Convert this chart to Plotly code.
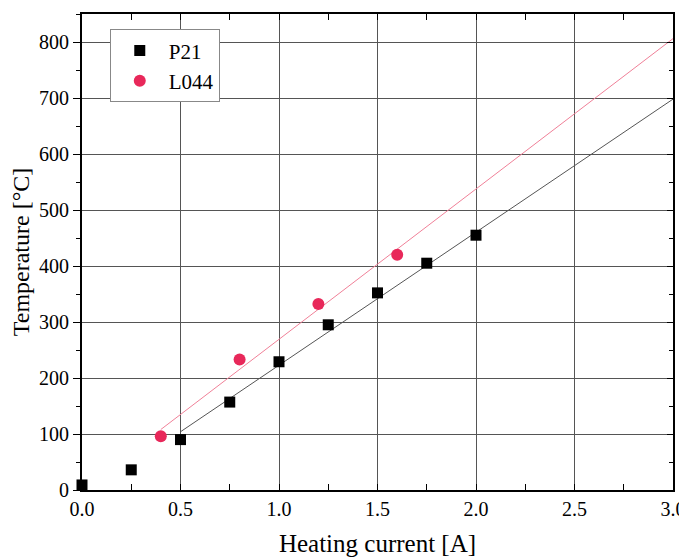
import plotly.graph_objects as go

# Data
p21_x = [0.0, 0.25, 0.5, 0.75, 1.0, 1.25, 1.5, 1.75, 2.0]
p21_y = [9, 36, 90, 157, 229, 295, 352, 405, 455]
l044_x = [0.4, 0.8, 1.2, 1.6]
l044_y = [96, 233, 332, 420]

# Linear fit lines (endpoints)
p21_fit_x = [0.5, 3.0]
p21_fit_y = [104, 698]
l044_fit_x = [0.4, 3.0]
l044_fit_y = [108, 806]

red = "#E8285A"
font_family = "Liberation Serif, Times New Roman, serif"

fig = go.Figure()
fig.add_trace(go.Scatter(x=p21_fit_x, y=p21_fit_y, mode="lines",
                         line=dict(color="#555555", width=1), showlegend=False,
                         hoverinfo="skip"))
fig.add_trace(go.Scatter(x=l044_fit_x, y=l044_fit_y, mode="lines",
                         line=dict(color="#F08098", width=1), showlegend=False,
                         hoverinfo="skip"))
fig.add_trace(go.Scatter(x=p21_x, y=p21_y, mode="markers", name="P21",
                         marker=dict(symbol="square", size=11, color="black"),
                         cliponaxis=False))
fig.add_trace(go.Scatter(x=l044_x, y=l044_y, mode="markers", name="L044",
                         marker=dict(symbol="circle", size=12, color=red),
                         cliponaxis=False))
# invisible trace to drive a right-hand axis with inward ticks
fig.add_trace(go.Scatter(x=[0], y=[0], yaxis="y2", mode="markers",
                         marker=dict(opacity=0), showlegend=False, hoverinfo="skip"))

# page body has an 8px margin, so the figure is shifted by 8px
fig.update_layout(
    width=679, height=552,
    margin=dict(l=74, r=14, t=6, b=70),
    paper_bgcolor="white", plot_bgcolor="white",
    font=dict(family=font_family, color="black", size=20),
    xaxis=dict(range=[0, 3.0], dtick=0.5, tickformat=".1f", automargin=False,
               showgrid=True, gridcolor="#555555", gridwidth=1,
               showline=True, linecolor="black", linewidth=2, mirror="allticks",
               ticks="inside", ticklen=6, tickcolor="black",
               minor=dict(dtick=0.25, ticks="inside", ticklen=4, tickcolor="black", showgrid=False),
               zeroline=False, tickfont=dict(size=20),
               title=dict(text="Heating current [A]", font=dict(size=25))),
    yaxis=dict(range=[0, 850], dtick=100, automargin=False,
               showgrid=True, gridcolor="#555555", gridwidth=1,
               showline=True, linecolor="black", linewidth=2, mirror=True,
               ticks="outside", ticklen=7, tickcolor="black",
               minor=dict(dtick=50, ticks="outside", ticklen=4, tickcolor="black", showgrid=False),
               zeroline=False, tickfont=dict(size=20),
               title=dict(text="Temperature [°C]", font=dict(size=24))),
    yaxis2=dict(range=[0, 850], dtick=100, overlaying="y", side="right", automargin=False,
                showgrid=False, showline=False, showticklabels=False,
                ticks="inside", ticklen=6, tickcolor="black",
                minor=dict(dtick=50, ticks="inside", ticklen=4, tickcolor="black"),
                zeroline=False),
    legend=dict(x=0.047, y=0.968, xanchor="left", yanchor="top",
                bgcolor="white", bordercolor="#888888", borderwidth=1,
                font=dict(size=21), itemwidth=48),
)

fig.write_html("out.html")
